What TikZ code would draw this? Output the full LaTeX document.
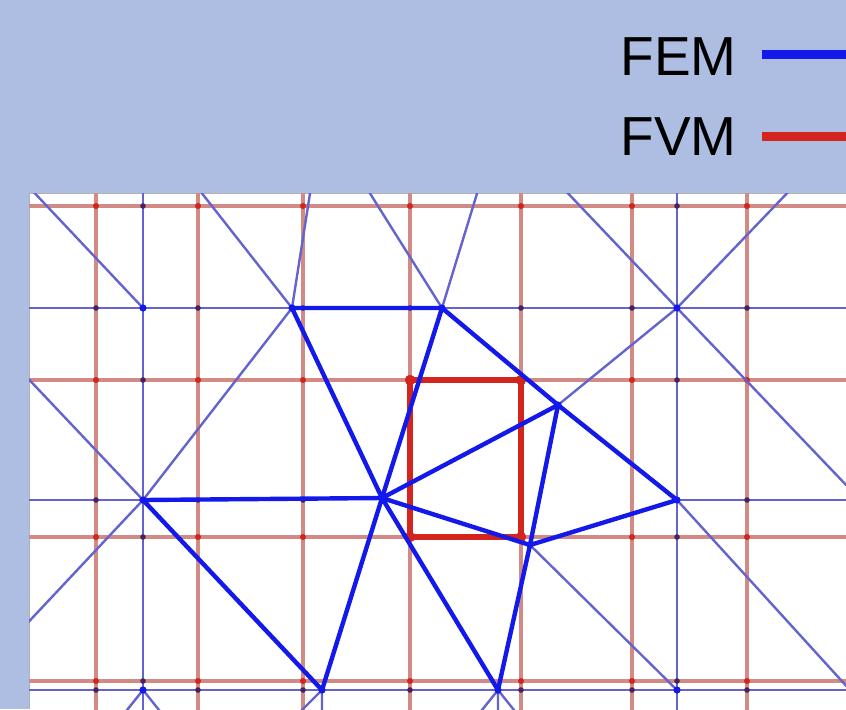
\documentclass[tikz,border=0pt]{standalone}
\usepackage{fontspec}
\setmainfont{Liberation Sans}
\usetikzlibrary{positioning}

\definecolor{bgblue}{RGB}{173,190,226}
\definecolor{femthin}{RGB}{100,100,205}
\definecolor{femblue}{RGB}{20,25,235}
\definecolor{fvmthin}{RGB}{210,138,132}
\definecolor{fvmred}{RGB}{212,36,30}
\definecolor{crossdark}{RGB}{70,35,95}

\begin{document}
\begin{tikzpicture}[x=0.5pt, y=-0.5pt,
  femline/.style={draw=femthin, line width=1.2pt},
  femedge/.style={draw=femblue, line width=2.2pt, line cap=round},
  fvmline/.style={draw=fvmthin, line width=1.6pt},
  fvmcell/.style={draw=fvmred, line width=2.6pt},
  legendtxt/.style={font=\fontsize{27.5}{30}\selectfont, anchor=base west, inner sep=0pt}
]
  \fill[bgblue] (0,0) rectangle (846,709);
  \useasboundingbox (0,0) rectangle (846,709);

  % Legende
  \node[legendtxt] (femtxt) at (620,75) {FEM};
  \node[legendtxt] (fvmtxt) at (620,155) {FVM};
  \coordinate (femend) at (850,54);
  \coordinate (fvmend) at (850,136);
  \draw[femblue, line width=4.5pt] ([xshift=12.5pt]femtxt.east |- femend) -- (femend);
  \draw[fvmred, line width=4.5pt] ([xshift=12.5pt]fvmtxt.east |- fvmend) -- (fvmend);

  % Gitter
  \fill[white] (29,193) rectangle (846,709);
  \draw[gray!60, line width=0.4pt] (29,709) -- (29,193) -- (846,193);

  % Knoten FEM
  \coordinate (A) at (143,308);
  \coordinate (B) at (143,500);
  \coordinate (E) at (292,308);
  \coordinate (F) at (442,308);
  \coordinate (D) at (382,498);
  \coordinate (G) at (558,405);
  \coordinate (I) at (530,545);
  \coordinate (H) at (677,500);
  \coordinate (J) at (677,308);
  \coordinate (M) at (143,690);
  \coordinate (C) at (322,690);
  \coordinate (K) at (498,690);
  \coordinate (L) at (677,690);
  % freie Enden
  \coordinate (a1) at (28,186);
  \coordinate (b1) at (20,370);
  \coordinate (b2) at (20,631);
  \coordinate (e1) at (197,187);
  \coordinate (e2) at (311,187);
  \coordinate (f1) at (366,187);
  \coordinate (f2) at (479,187);
  \coordinate (j1) at (562,187);
  \coordinate (j2) at (793,187);
  \coordinate (j3) at (870,510);
  \coordinate (h1) at (870,712);
  \coordinate (m1) at (123,715);
  \coordinate (m2) at (163,715);
  \coordinate (c1) at (297,715);
  \coordinate (c2) at (322,715);
  \coordinate (k1) at (478,715);
  \coordinate (k2) at (498,715);
  \coordinate (k3) at (518,715);
  % Zelle FVM
  \coordinate (Q1) at (410,380);
  \coordinate (Q2) at (521,380);
  \coordinate (Q3) at (521,537);
  \coordinate (Q4) at (410,537);

  \begin{scope}
    \clip (29,193) rectangle (846,709);
    \foreach \gx in {96,198,303,410,521,632,747}
      \draw[fvmline] (\gx,190) -- (\gx,712);
    \foreach \gy in {206,380,537,681}
      \draw[fvmline] (26,\gy) -- (850,\gy);
    \foreach \gx in {143,677}
      \draw[femline] (\gx,190) -- (\gx,712);
    \draw[femline] (26,308) -- (E) (F) -- (850,308);
    \draw[femline] (26,500) -- (B) (H) -- (850,500);
    \draw[femline] (26,690) -- (850,690);

    % Kreuzungen
    \foreach \gx in {96,198,303,410,521,632,747}
      \foreach \gy in {206,380,537,681}
        \fill[fvmred] (\gx,\gy) circle (1.5pt);
    \foreach \gx in {96,198,303,410,521,632,747}
      \foreach \gy in {308,690}
        \fill[crossdark] (\gx,\gy) circle (1.4pt);
    \foreach \gx in {96,198,303,747}
      \fill[crossdark] (\gx,500) circle (1.4pt);
    \foreach \gx in {143,677}
      \foreach \gy in {206,380,537,681}
        \fill[crossdark] (\gx,\gy) circle (1.4pt);

    % duenne Kanten
    \draw[femline] (A) -- (a1) (B) -- (b1) (B) -- (b2) (B) -- (E)
      (E) -- (e1) (E) -- (e2) (F) -- (f1) (F) -- (f2)
      (J) -- (j1) (J) -- (j2) (J) -- (j3) (G) -- (J)
      (H) -- (h1) (I) -- (L)
      (M) -- (m1) (M) -- (m2) (C) -- (c1) (C) -- (c2)
      (K) -- (k1) (K) -- (k2) (K) -- (k3);
  \end{scope}

  % Kontrollvolumen
  \draw[fvmcell] (Q1) -- (Q2) -- (Q3) -- (Q4) -- cycle;
  \foreach \q in {Q1,Q2,Q3,Q4}
    \fill[fvmred] (\q) circle (2.6pt);

  % Dreiecke FEM
  \draw[femedge] (B) -- (D) (E) -- (F) (E) -- (D) (F) -- (D)
    (F) -- (G) -- (H) (D) -- (G) (G) -- (I) (D) -- (I) (I) -- (H)
    (D) -- (C) (D) -- (K) (I) -- (K) (B) -- (C);
  \foreach \n in {A,B,E,F,D,G,I,H,J,M,C,K,L}
    \fill[femblue] (\n) circle (1.8pt);
\end{tikzpicture}
\end{document}
